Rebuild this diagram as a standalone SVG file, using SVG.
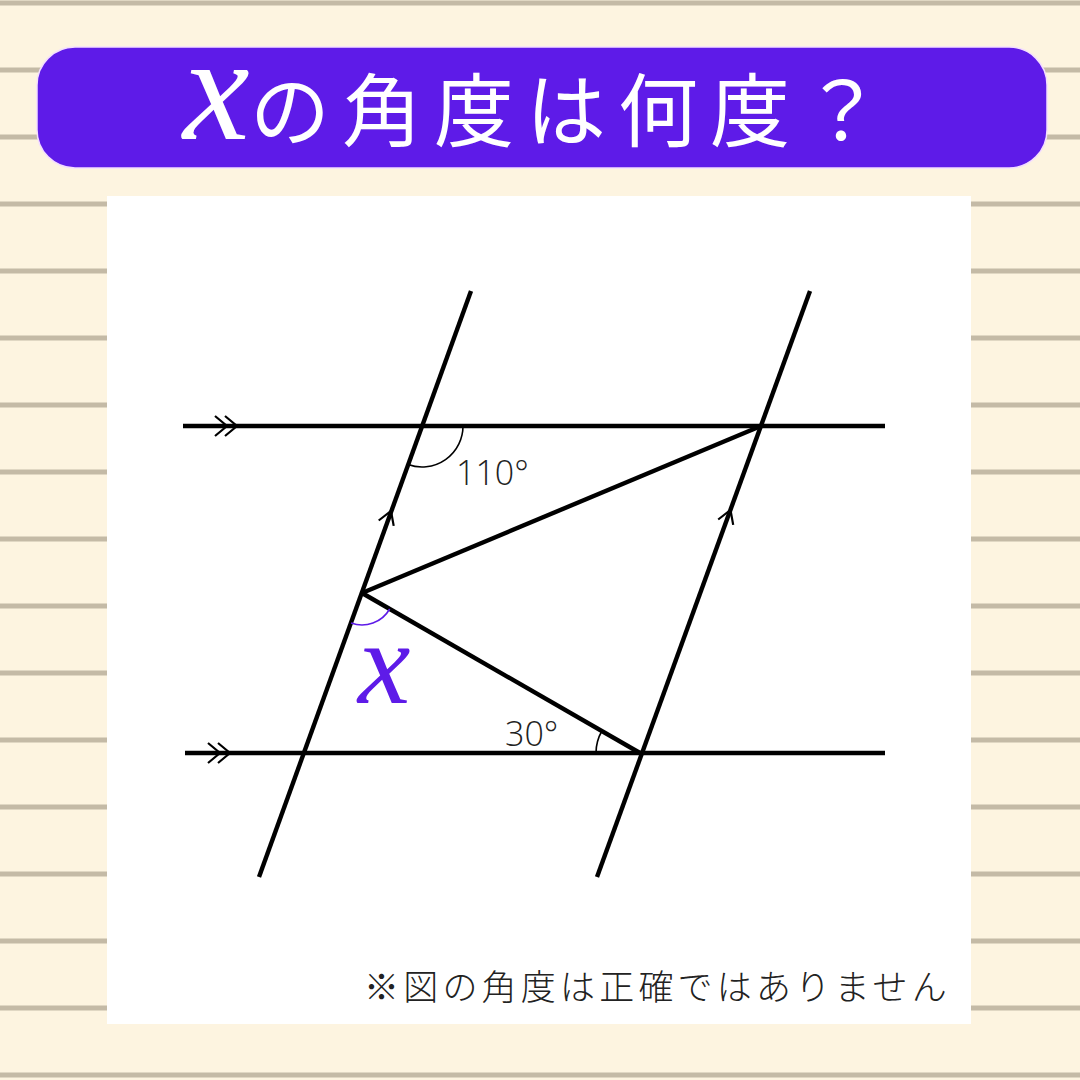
<svg xmlns="http://www.w3.org/2000/svg" width="1080" height="1080" viewBox="0 0 1080 1080">
<defs>
<style>
.stripe{stroke:#c4baa6;stroke-width:5}
.ln{stroke:#000;stroke-width:4.4;fill:none;stroke-linecap:butt}
.chev{stroke:#000;stroke-width:2.2;fill:none}
.arc{stroke:#000;stroke-width:1.6;fill:none}
.arcx{stroke:#5e1be8;stroke-width:1.6;fill:none}
.deg{font-family:"Open Sans","Noto Sans",sans-serif;font-weight:300;font-size:34px;fill:#222}
</style>
</defs>
<rect width="1080" height="1080" fill="#fdf4e0"/>
<g id="stripes">
<line class="stripe" x1="0" y1="3" x2="1080" y2="3"/>
<line class="stripe" x1="0" y1="70" x2="1080" y2="70"/>
<line class="stripe" x1="0" y1="137" x2="1080" y2="137"/>
<line class="stripe" x1="0" y1="204" x2="1080" y2="204"/>
<line class="stripe" x1="0" y1="271" x2="1080" y2="271"/>
<line class="stripe" x1="0" y1="338" x2="1080" y2="338"/>
<line class="stripe" x1="0" y1="405" x2="1080" y2="405"/>
<line class="stripe" x1="0" y1="472" x2="1080" y2="472"/>
<line class="stripe" x1="0" y1="539" x2="1080" y2="539"/>
<line class="stripe" x1="0" y1="606" x2="1080" y2="606"/>
<line class="stripe" x1="0" y1="673" x2="1080" y2="673"/>
<line class="stripe" x1="0" y1="740" x2="1080" y2="740"/>
<line class="stripe" x1="0" y1="807" x2="1080" y2="807"/>
<line class="stripe" x1="0" y1="874" x2="1080" y2="874"/>
<line class="stripe" x1="0" y1="941" x2="1080" y2="941"/>
<line class="stripe" x1="0" y1="1008" x2="1080" y2="1008"/>
<line class="stripe" x1="0" y1="1075" x2="1080" y2="1075"/>
</g>
<g id="title">
<rect x="37" y="47" width="1010" height="121" rx="38" fill="#5e1be8" stroke="#f3ddff" stroke-width="1.5"/>
<text x="183" y="139" font-family="Liberation Serif,serif" font-style="italic" font-size="150" fill="#fff">x</text>
<text x="250" y="140" font-family="Noto Sans CJK JP,sans-serif" font-size="80" letter-spacing="12" fill="#fff">の角度は何度？</text>
</g>
<rect id="panel" x="107" y="196" width="864" height="828" fill="#fff"/>
<g id="connectors">
<line class="ln" x1="183" y1="426" x2="885" y2="426"/>
<line class="ln" x1="185" y1="753" x2="885" y2="753"/>
<line class="ln" x1="471" y1="291" x2="259" y2="877"/>
<line class="ln" x1="810" y1="291" x2="597" y2="877"/>
<line class="ln" x1="362" y1="593" x2="761" y2="426"/>
<line class="ln" x1="362" y1="593" x2="640" y2="753"/>
<path class="chev" d="M215,416 L227,426 L215,436 M225,416 L237,426 L225,436"/>
<path class="chev" d="M208,743 L220,753 L208,763 M218,743 L230,753 L218,763"/>
<path class="chev" d="M378.7,520.5 L391,511 L393.7,525.9"/>
<path class="chev" d="M718.2,519.5 L730.5,510 L733.2,524.9"/>
</g>
<g id="angle-110">
<path class="arc" d="M463,426 A41,41 0 0 1 408,464.5"/>
<text class="deg" x="456" y="485">110°</text>
</g>
<g id="angle-x">
<path class="arcx" d="M389.7,609 A32,32 0 0 1 351.1,623.1"/>
<text x="358" y="703" font-family="Liberation Serif,serif" font-style="italic" font-size="118" fill="#5e1be8">x</text>
</g>
<g id="angle-30">
<path class="arc" d="M596,753 A44,44 0 0 1 601.9,731"/>
<text class="deg" x="505" y="746">30°</text>
</g>
<text id="note" x="364" y="1000" font-family="Noto Sans CJK JP,sans-serif" font-size="35" font-weight="300" letter-spacing="4.2" fill="#222">※図の角度は正確ではありません</text>
</svg>
